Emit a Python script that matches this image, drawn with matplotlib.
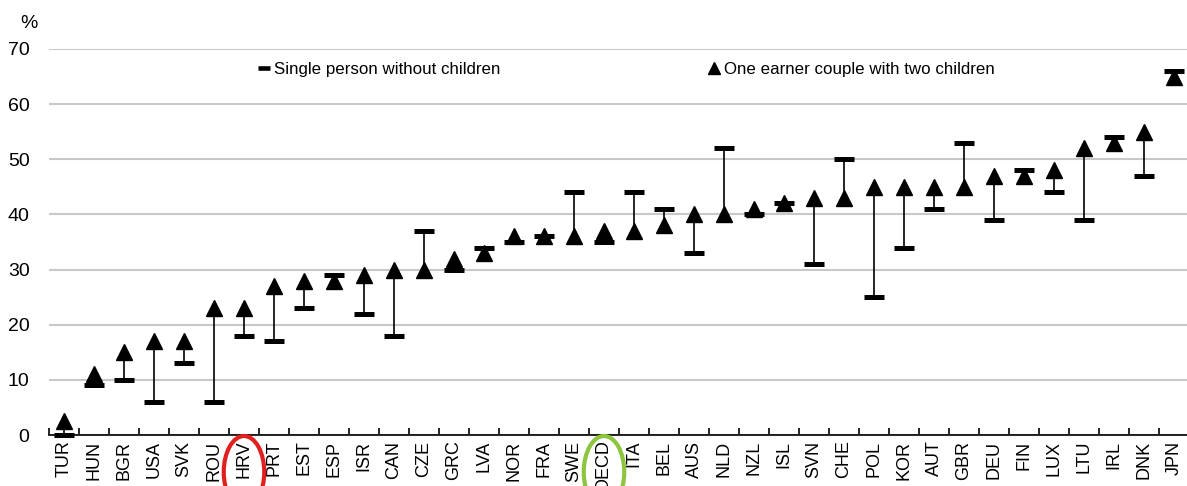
import matplotlib.pyplot as plt
import matplotlib.transforms as mtransforms
from matplotlib.patches import Ellipse
from matplotlib.lines import Line2D
import numpy as np

countries = ['TUR', 'HUN', 'BGR', 'USA', 'SVK', 'ROU', 'HRV', 'PRT', 'EST', 'ESP',
             'ISR', 'CAN', 'CZE', 'GRC', 'LVA', 'NOR', 'FRA', 'SWE', 'OECD', 'ITA',
             'BEL', 'AUS', 'NLD', 'NZL', 'ISL', 'SVN', 'CHE', 'POL', 'KOR', 'AUT',
             'GBR', 'DEU', 'FIN', 'LUX', 'LTU', 'IRL', 'DNK', 'JPN']
single = [0, 9, 10, 6, 13, 6, 18, 17, 23, 29,
          22, 18, 37, 30, 34, 35, 36, 44, 35, 44,
          41, 33, 52, 40, 42, 31, 50, 25, 34, 41,
          53, 39, 48, 44, 39, 54, 47, 66]
couple = [2.5, 11, 15, 17, 17, 23, 23, 27, 28, 28,
          29, 30, 30, 32, 33, 36, 36, 36, 37, 37,
          38, 40, 40, 41, 42, 43, 43, 45, 45, 45,
          45, 47, 47, 48, 52, 53, 55, 65]
circled = {'HRV': '#e0201f', 'OECD': '#8cc63f'}

plt.rcParams['font.family'] = ['Liberation Sans', 'DejaVu Sans']

fig = plt.figure(figsize=(11.87, 4.86), dpi=100)
ax = fig.add_axes([49 / 1187, 1 - 435 / 486, 1140 / 1187, 386 / 486])

x = np.arange(len(countries))
ax.vlines(x, single, couple, color='black', lw=1.2, zorder=2)
ax.plot(x, single, ls='none', marker='_', ms=14, mew=3.6, color='black',
        zorder=3, clip_on=False)
ax.plot(x, couple, ls='none', marker='^', ms=11.5, color='black',
        zorder=4, clip_on=False)

ax.set_xlim(-0.5, len(countries) - 0.5)
ax.set_ylim(0, 70)
ax.set_yticks(np.arange(0, 71, 10))
ax.tick_params(axis='y', length=0, labelsize=14, pad=14)
ax.set_xticks(x)
ax.set_xticklabels(countries, rotation=90, fontsize=13)
ax.tick_params(axis='x', which='major', length=0, pad=4)
ax.set_xticks(np.append(x - 0.5, x[-1] + 0.5), minor=True)
ax.tick_params(axis='x', which='minor', direction='in', length=5, width=1.2)
ax.grid(axis='y', color='#c8c8c8', lw=1.5)
ax.set_axisbelow(True)
for s in ['left', 'right', 'top']:
    ax.spines[s].set_visible(False)
ax.spines['bottom'].set_linewidth(1.2)

fig.text(20 / 1187, 1 - 24 / 486, '%', fontsize=14, va='center', ha='left')

handles = [Line2D([], [], ls='none', marker='_', ms=9, mew=3.3, color='black'),
           Line2D([], [], ls='none', marker='^', ms=9, color='black')]
ax.legend(handles, ['Single person without children', 'One earner couple with two children'],
          loc='center', bbox_to_anchor=(0.507, 0.946), ncol=2, frameon=False,
          fontsize=12.2, handlelength=0.6, handletextpad=0.3, columnspacing=12.3)

trans = mtransforms.blended_transform_factory(ax.transData, fig.transFigure)
for name, col in circled.items():
    i = countries.index(name)
    e = Ellipse((i, 1 - 472 / 486), 1.35, 72 / 486, transform=trans,
                fill=False, edgecolor=col, lw=3, clip_on=False)
    fig.add_artist(e)

fig.savefig('out.png', dpi=100)
